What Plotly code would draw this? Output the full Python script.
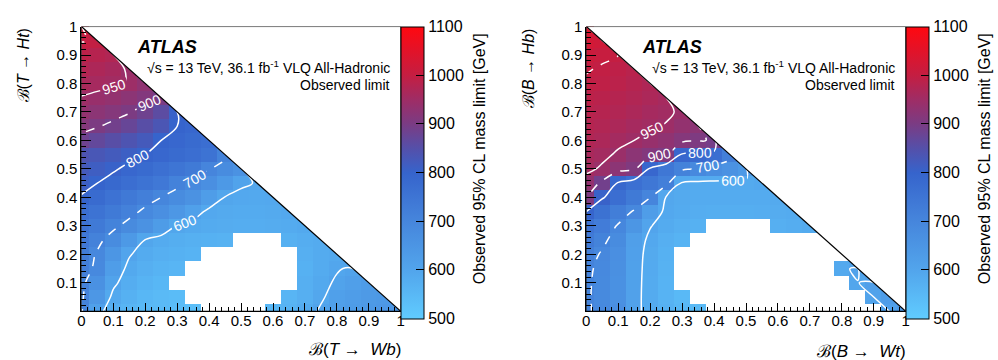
import plotly.graph_objects as go

N = None
# bin centres of the branching-ratio grid
GRID = [round(0.05 * k, 2) for k in range(21)]

# Observed 95% CL mass limit [GeV]; row j -> BR(->H) = 0.05*j, entry i -> BR(->W) = 0.05*i
T_ROWS = [
    [705, 615, 575, 560, 550, 545, 540, 535, N, N, N, N, 555, 565, 585, 605, 620, 630, 640, 645, 650],
    [708, 645, 590, 570, 555, 545, 540, N, N, N, N, N, N, 560, 575, 595, 615, 625, 635, 640],
    [712, 665, 608, 580, 565, 555, N, N, N, N, N, N, N, N, 575, 590, 605, 620, 630],
    [720, 690, 625, 590, 575, 565, 560, N, N, N, N, N, N, N, 570, 585, 597, 605],
    [730, 695, 650, 603, 585, 575, 570, 565, N, N, N, N, N, N, 575, 585, 590],
    [740, 712, 680, 640, 598, 585, 578, 572, 568, 566, N, N, N, 572, 580, 585],
    [755, 735, 710, 685, 660, 630, 598, 590, 585, 582, 580, 580, 582, 585, 590],
    [770, 755, 735, 715, 690, 670, 645, 615, 592, 588, 585, 585, 588, 592],
    [797, 780, 758, 738, 720, 700, 680, 660, 625, 598, 592, 590, 592],
    [812, 800, 785, 770, 755, 740, 712, 690, 670, 640, 605, 598],
    [825, 815, 805, 790, 780, 765, 750, 735, 702, 680, 660],
    [840, 832, 823, 812, 800, 790, 780, 770, 755, 710],
    [885, 870, 855, 840, 825, 800, 790, 780, 770],
    [915, 903, 890, 875, 855, 835, 800, 790],
    [935, 925, 915, 903, 885, 860, 805],
    [948, 942, 935, 925, 912, 900],
    [965, 960, 955, 948, 930],
    [978, 970, 962, 945],
    [990, 982, 975],
    [1001, 998],
    [1030],
]

B_ROWS = [
    [705, 690, 670, 612, 585, 570, 555, 545, N, N, N, N, N, N, N, N, N, N, N, 615, 640],
    [705, 688, 665, 612, 585, 565, 550, N, N, N, N, N, N, N, N, N, N, N, 605, 625],
    [706, 688, 665, 613, 585, 565, N, N, N, N, N, N, N, N, N, N, N, 598, 620],
    [708, 690, 668, 614, 586, 566, N, N, N, N, N, N, N, N, N, N, 590, 610],
    [718, 695, 670, 615, 588, 570, N, N, N, N, N, N, N, N, N, N, N],
    [735, 710, 680, 620, 592, 575, 565, N, N, N, N, N, N, N, N, N],
    [752, 728, 696, 650, 602, 585, 575, 570, N, N, N, N, 575, 580, 585],
    [800, 760, 725, 695, 625, 592, 585, 580, 578, 578, 578, 580, 582, 585],
    [905, 805, 770, 735, 702, 595, 588, 585, 585, 585, 585, 585, 588],
    [935, 890, 792, 765, 745, 720, 592, 588, 586, 586, 588, 592],
    [958, 945, 925, 908, 790, 745, 712, 690, 675, 660, 640],
    [965, 958, 945, 925, 912, 905, 790, 785, 770, 720],
    [975, 968, 958, 950, 940, 930, 915, 905, 895],
    [980, 975, 968, 960, 955, 948, 935, 925],
    [985, 980, 975, 968, 960, 955, 945],
    [990, 986, 980, 975, 968, 960],
    [996, 993, 988, 980, 972],
    [1002, 997, 992, 985],
    [1012, 1005, 1000],
    [1025, 1018],
    [1040],
]

CONTOUR_LEVELS = [600, 700, 800, 900, 950, 1000]
CONTOUR_DASH = ["solid", "dash", "solid", "dash", "solid", "dash"]
CBAR_TICKS = [500, 600, 700, 800, 900, 1000, 1100]
AXIS_TICKS = [0, 0.1, 0.2, 0.3, 0.4, 0.5, 0.6, 0.7, 0.8, 0.9, 1]
AXIS_TICK_TEXT = ["0", "0.1", "0.2", "0.3", "0.4", "0.5", "0.6", "0.7", "0.8", "0.9", "1"]

CSCALE = [
    [0.0, "rgb(96,204,255)"],
    [1 / 6, "rgb(82,165,236)"],
    [2 / 6, "rgb(70,134,220)"],
    [3 / 6, "rgb(54,100,204)"],
    [3.5 / 6, "rgb(84,80,170)"],
    [4 / 6, "rgb(122,60,132)"],
    [4.5 / 6, "rgb(158,45,102)"],
    [5 / 6, "rgb(196,30,66)"],
    [1.0, "rgb(255,8,16)"],
]

W, H = 998, 360
FONT = "Liberation Sans, Arial, Helvetica, sans-serif"
SP = "&nbsp;"


def px(x):
    return x / W


def py(y):
    return 1 - y / H


def full(rows):
    return [r + [None] * (21 - len(r)) for r in rows]


PANELS = [
    dict(rows=T_ROWS, x0=78, x1=400, xa="x", ya="y",
         ytitle=f"ℬ(<i>T</i>{SP}→{SP}<i>Ht</i>)", xtitle=f"ℬ(<i>T</i>{SP}→{SP}{SP}<i>Wb</i>)",
         ytx=20, xty=349),
    dict(rows=B_ROWS, x0=587, x1=909, xa="x2", ya="y2",
         ytitle=f"ℬ(<i>B</i>{SP}→{SP}<i>Hb</i>)", xtitle=f"ℬ(<i>B</i>{SP}→{SP}{SP}<i>Wt</i>)",
         ytx=529, xty=351),
]

TOP, BOT = 18, 310

fig = go.Figure()
shapes = []
annotations = []


def note(text, x, y, xanchor, yanchor, size, angle=0):
    return dict(text=text, x=px(x), y=py(y), xref="paper", yref="paper",
                xanchor=xanchor, yanchor=yanchor, textangle=angle, showarrow=False,
                font=dict(size=size, family=FONT, color="black"))


for p in PANELS:
    z = full(p["rows"])
    fig.add_trace(go.Heatmap(
        x=GRID, y=GRID, z=z, xaxis=p["xa"], yaxis=p["ya"],
        zmin=500, zmax=1100, colorscale=CSCALE, hoverinfo="skip",
        colorbar=dict(
            x=px(p["x1"]), xanchor="left", xref="paper",
            y=py(TOP), yanchor="top", yref="paper",
            len=BOT - TOP, lenmode="pixels", thickness=23,
            outlinewidth=1, outlinecolor="black",
            tickvals=CBAR_TICKS, ticks="inside", ticklen=8, tickcolor="black",
            tickfont=dict(size=16, color="black", family=FONT),
            ypad=0, xpad=0,
        ),
    ))
    # ROOT treats empty bins as zero when drawing contours
    cz = [[v if v is not None else 0 for v in row] for row in z]
    for lev, dash in zip(CONTOUR_LEVELS, CONTOUR_DASH):
        fig.add_trace(go.Contour(
            x=GRID, y=GRID, z=cz, xaxis=p["xa"], yaxis=p["ya"],
            autocontour=False,
            contours=dict(start=lev, end=lev, size=1, coloring="none",
                          showlabels=True,
                          labelfont=dict(color="white", size=14, family=FONT)),
            line=dict(color="white", width=1.5, dash=dash),
            showscale=False, hoverinfo="skip",
        ))
    xr, yr = p["xa"], p["ya"]
    shapes.append(dict(type="path", path="M 0 1 L 1 0 L 1.02 0 L 1.02 1.02 L 0 1.02 Z",
                       xref=xr, yref=yr, fillcolor="white", line=dict(width=0), layer="above"))
    shapes.append(dict(type="line", x0=0, y0=1, x1=1, y1=0, xref=xr, yref=yr,
                       line=dict(color="black", width=1.2), layer="above"))
    shapes.append(dict(type="rect", x0=0, y0=0, x1=1, y1=1, xref=xr, yref=yr,
                       line=dict(color="black", width=1), layer="above"))

    off = p["x0"] - 78
    annotations += [
        note("<b><i>ATLAS</i></b>", 132 + off, 39, "left", "middle", 18),
        note("√s = 13 TeV, 36.1 fb<sup>-1</sup> VLQ All-Hadronic", 391 + off, 60,
             "right", "middle", 14),
        note("Observed limit", 391 + off, 78, "right", "middle", 14),
        note(p["ytitle"], p["ytx"], 18, "center", "top", 16, -90),
        note(p["xtitle"], p["x1"] + 2, p["xty"], "right", "middle", 17),
        note("Observed 95% CL mass limit [GeV]", p["x1"] + 79, 154, "center", "middle", 16, -90),
    ]

axis_common = dict(range=[0, 1], showgrid=False, zeroline=False, showline=True,
                   linecolor="black", linewidth=1, ticks="inside", tickcolor="black",
                   tickwidth=1, tickfont=dict(size=15, family=FONT, color="black"))

layout = dict(
    width=W, height=H, margin=dict(l=0, r=0, t=0, b=0),
    paper_bgcolor="white", plot_bgcolor="white", showlegend=False,
    font=dict(family=FONT, color="black"),
    shapes=shapes, annotations=annotations,
)
for p, (xn, yn) in zip(PANELS, [("xaxis", "yaxis"), ("xaxis2", "yaxis2")]):
    layout[xn] = dict(axis_common, domain=[px(p["x0"]), px(p["x1"])], anchor=p["ya"],
                      tickvals=AXIS_TICKS, ticktext=AXIS_TICK_TEXT, ticklen=8,
                      ticklabelstandoff=-4,
                      minor=dict(ticks="inside", ticklen=4, dtick=0.02, tick0=0,
                                 tickcolor="black", showgrid=False))
    layout[yn] = dict(axis_common, domain=[py(BOT), py(TOP)], anchor=p["xa"],
                      tickvals=AXIS_TICKS[1:], ticktext=AXIS_TICK_TEXT[1:], ticklen=10,
                      minor=dict(ticks="inside", ticklen=5, dtick=0.02, tick0=0,
                                 tickcolor="black", showgrid=False))

fig.update_layout(**layout)
fig.write_html("out.html")
